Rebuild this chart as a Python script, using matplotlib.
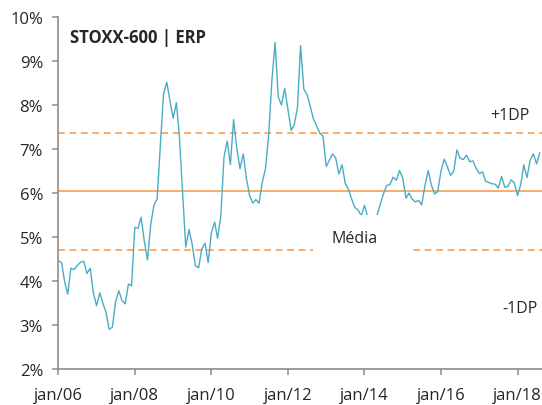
import matplotlib
matplotlib.use("Agg")
import matplotlib.pyplot as plt
import matplotlib.dates as mdates
from matplotlib.patches import Rectangle
import pandas as pd

# ERP mensal do STOXX-600 (%), jan/06 a ago/18
erp = [
    4.46, 4.42, 4.00, 3.70, 4.29, 4.26, 4.35, 4.43, 4.45, 4.17, 4.29, 3.74,
    3.44, 3.73, 3.50, 3.29, 2.90, 2.95, 3.52, 3.78, 3.55, 3.48, 3.93, 3.89,
    5.22, 5.20, 5.45, 4.90, 4.48, 5.28, 5.72, 5.86, 7.10, 8.25, 8.52, 8.10,
    7.70, 8.05, 7.30, 6.00, 4.77, 5.17, 4.84, 4.35, 4.30, 4.73, 4.86, 4.42,
    5.10, 5.34, 4.97, 5.48, 6.81, 7.18, 6.64, 7.67, 7.00, 6.55, 6.89, 6.33,
    5.94, 5.77, 5.85, 5.77, 6.24, 6.55, 7.30, 8.55, 9.42, 8.18, 8.00, 8.38,
    7.91, 7.42, 7.55, 7.93, 9.35, 8.36, 8.24, 7.97, 7.68, 7.52, 7.36, 7.29,
    6.60, 6.75, 6.89, 6.80, 6.43, 6.64, 6.22, 6.08, 5.86, 5.67, 5.61, 5.48,
    5.72, 5.45, 5.30, 5.35, 5.50, 5.75, 5.98, 6.17, 6.19, 6.36, 6.29, 6.51,
    6.34, 5.88, 6.00, 5.86, 5.80, 5.83, 5.73, 6.17, 6.51, 6.18, 5.98, 6.03,
    6.50, 6.77, 6.60, 6.40, 6.49, 6.98, 6.79, 6.76, 6.86, 6.71, 6.73, 6.56,
    6.44, 6.48, 6.27, 6.24, 6.21, 6.20, 6.11, 6.38, 6.13, 6.15, 6.30, 6.23,
    5.94, 6.20, 6.64, 6.35, 6.75, 6.89, 6.66, 6.91,
]
dates = pd.date_range("2006-01-01", periods=len(erp), freq="MS")

media = 6.04
dp = 1.33

tick_years = [2006, 2008, 2010, 2012, 2014, 2016, 2018]
tick_labels = ["jan/06", "jan/08", "jan/10", "jan/12", "jan/14", "jan/16", "jan/18"]
y_ticks = [2, 3, 4, 5, 6, 7, 8, 9, 10]

BLUE = "#4BACC6"
ORANGE = "#F79646"
GREY = "#8C8C8C"
TXT = "#262626"

plt.rcParams["font.family"] = ["Open Sans", "DejaVu Sans"]

fig = plt.figure(figsize=(5.42, 4.06), dpi=100)
ax = fig.add_axes([0.1076, 0.0887, 0.8924, 0.867])

ax.plot(dates, erp, color=BLUE, linewidth=1.0, zorder=2)
ax.axhline(media, color=ORANGE, linewidth=1.1, zorder=1)
ax.axhline(media + dp, color=ORANGE, linewidth=1.1, dashes=(4.5, 3), zorder=1)
ax.axhline(media - dp, color=ORANGE, linewidth=1.1, dashes=(4.5, 3), zorder=1)

# fundo branco do rótulo "Média"
ax.add_patch(Rectangle((0.527, 0.332), 0.2, 0.106, transform=ax.transAxes,
                       facecolor="white", edgecolor="none", zorder=3))

ax.text(0.024, 0.928, "STOXX-600 | ERP", transform=ax.transAxes,
        fontsize=12, fontweight="bold", color=TXT, va="baseline", ha="left")
ax.text(0.934, 0.710, "+1DP", transform=ax.transAxes, fontsize=11.5,
        color=TXT, ha="center", va="baseline", zorder=4)
ax.text(0.955, 0.162, "-1DP", transform=ax.transAxes, fontsize=11.5,
        color=TXT, ha="center", va="baseline", zorder=4)
ax.text(0.613, 0.361, "Média", transform=ax.transAxes, fontsize=11.5,
        color=TXT, ha="center", va="baseline", zorder=4)

ax.set_ylim(2, 10)
ax.set_yticks(y_ticks)
ax.set_yticklabels([f"{v}%" for v in y_ticks])
ax.set_xlim(pd.Timestamp("2006-01-01"), pd.Timestamp("2018-08-22"))
ax.set_xticks([pd.Timestamp(f"{y}-01-01") for y in tick_years])
ax.set_xticklabels(tick_labels)

for s in ["top", "right"]:
    ax.spines[s].set_visible(False)
for s in ["left", "bottom"]:
    ax.spines[s].set_color(GREY)
    ax.spines[s].set_linewidth(1.2)

ax.tick_params(axis="y", direction="out", length=4, width=1.1, color=GREY,
               labelsize=12, labelcolor=TXT, pad=7)
ax.tick_params(axis="x", direction="out", length=4, width=1.1, color=GREY,
               labelsize=12, labelcolor=TXT, pad=9)

fig.savefig("out.png", dpi=100)
